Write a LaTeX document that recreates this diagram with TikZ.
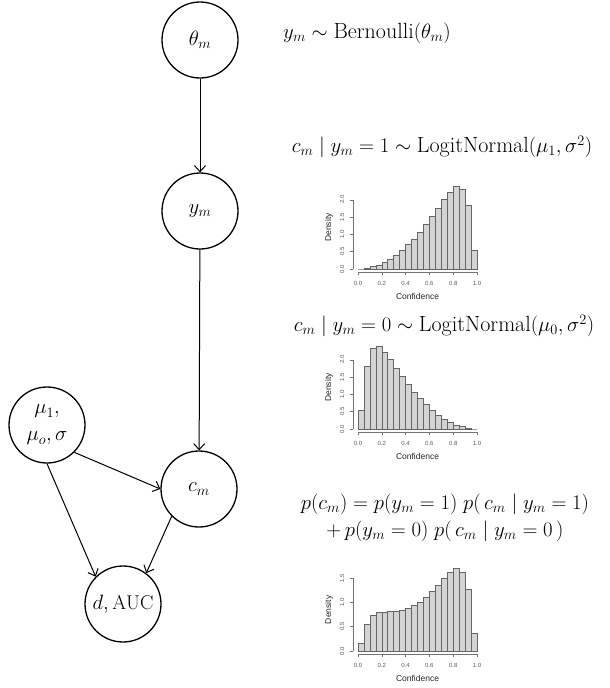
\documentclass[tikz,border=0pt]{standalone}
\usepackage{fontspec}
\newfontfamily\rfont{Liberation Sans}
\usetikzlibrary{arrows.meta}
\newcommand{\histplot}[6]{%
  \foreach \h [count=\i from 0] in {#3}
    \draw[bar] ({358+\i*5.95},{#1}) rectangle ({358+(\i+1)*5.95},{#1-\h*#2});
  \draw[axis] (358,{#1+3.3}) -- (477,{#1+3.3});
  \foreach \t/\l in {0/0.0,1/0.2,2/0.4,3/0.6,4/0.8,5/1.0} {
    \draw[axis] ({358+\t*23.8},{#1+3.3}) -- ++(0,3);
    \node[tick] at ({358+\t*23.8},{#1+14}) {\l};
  }
  \draw[axis] (353,{#1}) -- (353,{#1-#5*#2});
  \foreach \v in {#4} {
    \draw[axis] (353,{#1-\v*#2}) -- ++(-3,0);
    \node[tick,rotate=90] at (342,{#1-\v*#2}) {\v};
  }
  \node[alab,rotate=90] at (329,{#1-#6*#2}) {Density};
  \node[alab] at (417.5,{#1+27}) {Confidence};
}
\begin{document}
\begin{tikzpicture}[x=1pt,y=-1pt,
  var/.style={circle,draw,line width=1.3pt,minimum size=76pt,inner sep=0pt,
    font=\fontsize{20}{27}\selectfont},
  edge/.style={-{Straight Barb[length=6pt,width=11pt]},line width=1pt},
  eqn/.style={font=\fontsize{22}{27}\selectfont,inner sep=0pt},
  bar/.style={fill=black!17,draw=black!60,line width=0.6pt},
  axis/.style={draw=black!55,line width=0.5pt},
  tick/.style={font=\rfont\fontsize{6}{7}\selectfont,text=black!65,inner sep=0pt},
  alab/.style={font=\rfont\fontsize{8.5}{10}\selectfont,text=black!85,inner sep=0pt}]
\useasboundingbox (0,0) rectangle (610,688);

% graph nodes
\node[var] (theta) at (200,40) {$\theta_m$};
\node[var] (y) at (200,211) {$y_m$};
\node[var] (c) at (199,489) {$c_m$};
\node[var,align=center] (mu) at (47,425) {$\mu_1,$\\$\mu_o,\sigma$};
\node[var] (d) at (123,604) {$d,\mathrm{AUC}$};

\draw[edge] (theta) -- (y);
\draw[edge] (y) -- (c);
\draw[edge] (mu.-45) -- (c.west);
\draw[edge] (mu.south) -- (d.135);
\draw[edge] (c.-135) -- (d.53);

% equations
\node[eqn,anchor=west] (e1) at (283,33) {$y_m \sim \mathrm{Bernoulli}(\theta_m)$};
\node[eqn] (e2) at (442,147) {$c_m \mid y_m = 1 \sim \mathrm{LogitNormal}(\mu_1, \sigma^2)$};
\node[eqn] (e3) at (444,326) {$c_m \mid y_m = 0 \sim \mathrm{LogitNormal}(\mu_0, \sigma^2)$};
\node[eqn,align=center] (e4) at (445,518) {$p(c_m) = p(y_m = 1)\; p(\,c_m \mid y_m = 1)$\\$+\, p(y_m = 0)\; p(\,c_m \mid y_m = 0\,)$};

% histograms
\histplot{269}{34.6}{0.0,0.03,0.07,0.12,0.19,0.29,0.40,0.55,0.71,0.87,1.07,1.30,1.53,1.76,2.01,2.22,2.40,2.31,1.83,0.53}{0.0,0.5,1.0,1.5,2.0}{2.0}{1.2}
\histplot{429}{34.6}{0.53,1.81,2.34,2.40,2.22,2.02,1.76,1.52,1.30,1.07,0.88,0.71,0.55,0.40,0.29,0.19,0.12,0.07,0.03,0.0}{0.0,0.5,1.0,1.5,2.0}{2.0}{1.2}
\histplot{651}{48.7}{0.16,0.55,0.73,0.79,0.80,0.82,0.82,0.83,0.87,0.93,1.01,1.11,1.23,1.34,1.49,1.62,1.69,1.62,1.26,0.37}{0.0,0.5,1.0,1.5}{1.5}{0.845}
\end{tikzpicture}
\end{document}
